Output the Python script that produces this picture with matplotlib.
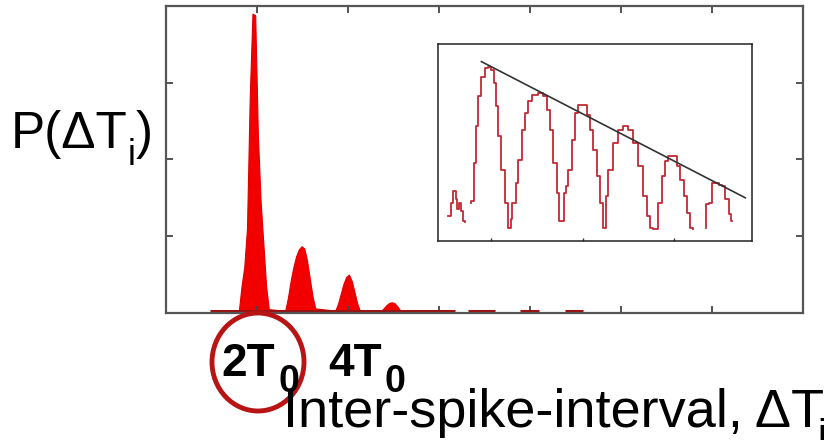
import numpy as np
import matplotlib
matplotlib.use("Agg")
import matplotlib.pyplot as plt
from matplotlib.patches import Ellipse

plt.rcParams['font.family'] = ['Liberation Sans', 'DejaVu Sans']

# histogram of inter-spike intervals (x in tick units, y in tick units)
isi_x = [0.80, 0.83, 0.86, 0.89, 0.92, 0.95, 0.98, 1.01, 1.04, 1.07, 1.10, 1.13,
         1.31, 1.34, 1.37, 1.40, 1.43, 1.46, 1.49, 1.52, 1.55, 1.58, 1.61, 1.64,
         1.86, 1.89, 1.92, 1.95, 1.98, 2.01, 2.04, 2.07, 2.10, 2.13,
         2.36, 2.39, 2.42, 2.45, 2.48, 2.51, 2.54, 2.57, 2.60]
isi_p = [0.02, 0.35, 0.60, 1.10, 2.80, 3.90, 3.88, 2.30, 1.45, 0.90, 0.35, 0.05,
         0.03, 0.20, 0.42, 0.60, 0.74, 0.83, 0.87, 0.84, 0.68, 0.45, 0.22, 0.06,
         0.03, 0.12, 0.25, 0.38, 0.47, 0.50, 0.42, 0.28, 0.13, 0.03,
         0.02, 0.06, 0.10, 0.13, 0.14, 0.13, 0.09, 0.04, 0.01]

# sparse low counts along the baseline
tail_start = [0.48, 3.32, 3.89, 4.38]
tail_end = [3.18, 3.62, 4.10, 4.58]
tail_level = [0.02, 0.02, 0.02, 0.02]

# inset: log-scaled ISI histogram (arbitrary units)
inset_x = [30, 40, 40, 50, 55, 60, 67, 72, 75, 85, np.nan,
           95, 105, 110, 115, 125, 135, 145, 155, 165, 170, 175, 185, 195, 205, 215,
           220, 225, 230, 235, 245, 255, 265, 275, 290, 310, 320, 330, 340, 350, 360,
           365, 375, 380, 385, 395, 405, 415, 425, 440, 450, 460, 470, 480, 490, 500,
           505, 515, 530, 545, 560, 575, 590, 605, 620, 630, 640, 645, 655, 665, 675,
           685, 695, 710, 720, 730, 740, 750, 760, 765, np.nan,
           800, 805, 815, 825, 835, 845, 855, 865, 875, 880]
inset_y = [75, 75, 115, 150, 125, 95, 115, 90, 60, 57, np.nan,
           115, 120, 235, 345, 435, 495, 520, 525, 515, 475, 405, 315, 215, 115, 40,
           65, 115, 115, 175, 245, 335, 385, 420, 440, 445, 435, 395, 335, 235, 145,
           60, 60, 145, 165, 215, 305, 385, 410, 410, 380, 335, 275, 195, 115, 40,
           135, 215, 295, 335, 345, 335, 295, 225, 135, 75, 40, 35, 35, 115, 195,
           240, 255, 255, 225, 185, 135, 85, 40, 35, np.nan,
           40, 110, 115, 175, 175, 170, 165, 125, 80, 60]
fit_x = [130, 920]
fit_y = [540, 130]

fig = plt.figure(figsize=(8.39, 4.4), dpi=100)
ax = fig.add_axes([166 / 839, 1 - 313 / 440, 637 / 839, 307 / 440])

ax.fill_between(isi_x, isi_p, facecolor='#f20000', edgecolor='#e00000', lw=0.8)
ax.hlines(tail_level, tail_start, tail_end, color='#9b1010', lw=2.2)

ax.set_xlim(0, 7)
ax.set_ylim(0, 4)
ax.set_xticks([1, 2, 3, 4, 5, 6])
ax.set_yticks([1, 2, 3])
ax.tick_params(direction='in', length=5, width=1.3, color='#444444',
               top=True, right=True, labelbottom=False, labelleft=False)
for s in ax.spines.values():
    s.set_color('#555555')
    s.set_linewidth(1.6)

ins = fig.add_axes([438 / 839, 1 - 241 / 440, 314 / 839, 197 / 440])
ins.plot(inset_x, inset_y, drawstyle='steps-mid', color='#c02a34', lw=1.3)
ins.plot(fit_x, fit_y, color='#333333', lw=1.2)
ins.set_xlim(0, 940)
ins.set_ylim(0, 593)
ins.set_xticks([160, 435, 705])
ins.set_yticks([])
ins.tick_params(direction='in', length=2, width=1, color='#333333', labelbottom=False)
for s in ins.spines.values():
    s.set_color('#222222')
    s.set_linewidth(1.1)

def px(x, y):
    return x / 839, 1 - y / 440

# y label
fig.text(*px(11, 148), 'P(ΔT', fontsize=37, ha='left', va='baseline')
fig.text(*px(128, 165), 'i', fontsize=26, ha='left', va='baseline')
fig.text(*px(136, 148), ')', fontsize=37, ha='left', va='baseline')

# peak labels
fig.text(*px(221, 376), '2T', fontsize=33, fontweight='bold', ha='left', va='baseline')
fig.text(*px(279, 392), '0', fontsize=27, fontweight='bold', ha='left', va='baseline')
fig.text(*px(328, 376), '4T', fontsize=33, fontweight='bold', ha='left', va='baseline')
fig.text(*px(384, 392), '0', fontsize=27, fontweight='bold', ha='left', va='baseline')

# x label
fig.text(*px(283, 427), 'Inter-spike-interval, ΔT', fontsize=39, ha='left', va='baseline')
fig.text(*px(817, 446), 'i', fontsize=28, ha='left', va='baseline')

fig.patches.append(Ellipse(px(258, 362), 92 / 839, 98 / 440, transform=fig.transFigure,
                           fill=False, edgecolor='#b81414', lw=3.5))

fig.savefig('out.png', dpi=100)
